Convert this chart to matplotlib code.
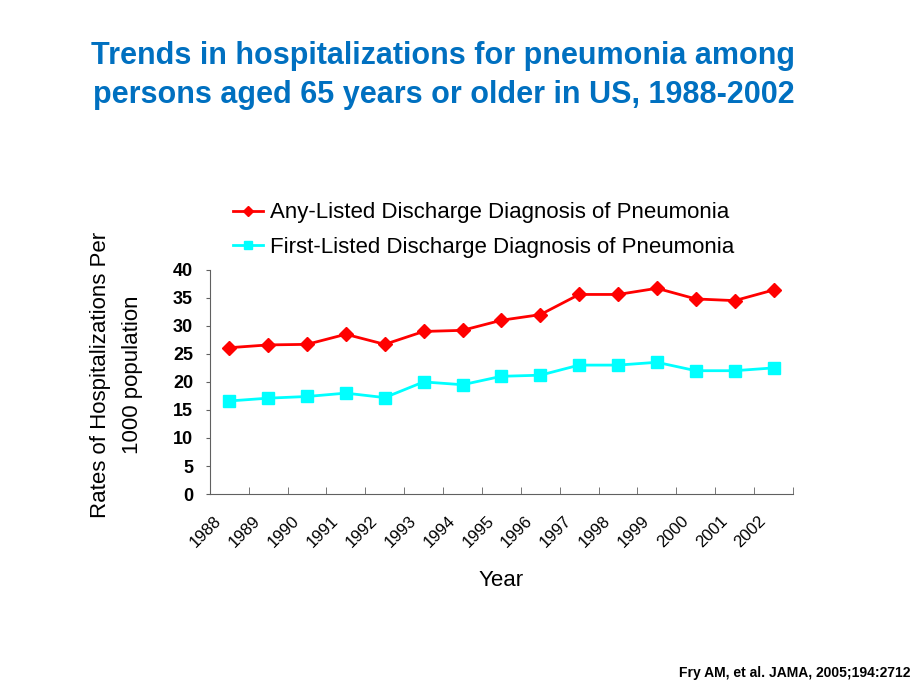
import matplotlib
matplotlib.use("Agg")
import matplotlib.pyplot as plt
import numpy as np
from matplotlib.ticker import FixedLocator

plt.rcParams['font.family'] = ['Liberation Sans', 'DejaVu Sans']

years = ['1988', '1989', '1990', '1991', '1992', '1993', '1994', '1995',
         '1996', '1997', '1998', '1999', '2000', '2001', '2002']
any_listed = [26.1, 26.6, 26.7, 28.5, 26.7, 29.0, 29.2, 31.0, 32.0, 35.6,
              35.6, 36.7, 34.8, 34.5, 36.4]
first_listed = [16.6, 17.1, 17.4, 18.0, 17.2, 20.0, 19.5, 21.0, 21.2, 23.0,
                23.0, 23.5, 22.0, 22.0, 22.5]
yticks = [0, 5, 10, 15, 20, 25, 30, 35, 40]

fig = plt.figure(figsize=(9.2, 6.9), dpi=100)
ax = fig.add_axes([0.228, 0.284, 0.634, 0.325])

x = np.arange(len(years))
l1, = ax.plot(x, any_listed, color='#FF0000', lw=2, marker='D', ms=7,
              label='Any-Listed Discharge Diagnosis of Pneumonia')
l2, = ax.plot(x, first_listed, color='#00FFFF', lw=2, marker='s', ms=8,
              label='First-Listed Discharge Diagnosis of Pneumonia')

ax.set_xlim(-0.5, len(years) - 0.5)
ax.set_ylim(0, 40)
ax.set_yticks(yticks)
ax.set_yticklabels([str(v) for v in yticks], fontsize=13, fontweight='bold')
ax.set_xticks(x)
ax.set_xticklabels([])
ax.tick_params(axis='x', which='major', length=0)
for xi, yr in zip(x, years):
    ax.annotate(yr, xy=(xi, 0), xycoords=('data', 'axes fraction'),
                xytext=(-11, -14), textcoords='offset points',
                rotation=45, ha='right', va='top', rotation_mode='anchor',
                fontsize=12, annotation_clip=False)
ax.xaxis.set_minor_locator(FixedLocator(np.arange(-0.5, len(years), 1.0)))
ax.tick_params(axis='x', which='minor', direction='in', length=5, color='#606060')
ax.tick_params(axis='y', direction='out', length=3, color='#606060', pad=9)
for s in ['top', 'right']:
    ax.spines[s].set_visible(False)
for s in ['left', 'bottom']:
    ax.spines[s].set_color('#606060')

ax.set_xlabel('Year', fontsize=16, va='top')
ax.xaxis.set_label_coords(0.5, -0.337)
ax.set_ylabel('Rates of Hospitalizations Per\n1000 population', fontsize=16,
              linespacing=1.7, va='center')
ax.yaxis.set_label_coords(-0.16, 0.53)

ax.legend(handles=[l1, l2], loc='lower left', bbox_to_anchor=(0.04, 1.054),
          frameon=False, fontsize=16, handlelength=1.35, handletextpad=0.3,
          labelspacing=0.6, borderaxespad=0, borderpad=0, markerscale=0.8)

fig.text(0.482, 0.89, 'Trends in hospitalizations for pneumonia among\npersons aged 65 years or older in US, 1988-2002',
         ha='center', va='center', fontsize=22, fontweight='bold',
         color='#0070C0', linespacing=1.4)
fig.text(0.99, 0.025, 'Fry AM, et al. JAMA, 2005;194:2712', ha='right',
         va='center', fontsize=10, fontweight='bold')

fig.savefig('out.png', dpi=100)
